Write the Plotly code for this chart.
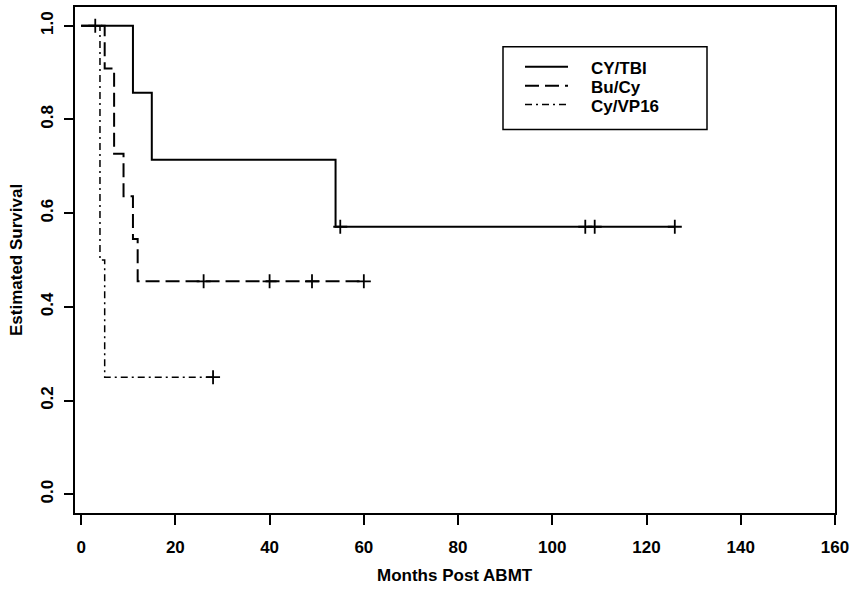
import plotly.graph_objects as go

# ---- data ----
groups = ["CY/TBI", "Bu/Cy", "Cy/VP16"]

cytbi_t = [0, 11, 15, 54, 126]
cytbi_s = [1.0, 0.857, 0.714, 0.571, 0.571]
cytbi_cens_t = [3, 55, 107, 109, 126]
cytbi_cens_s = [1.0, 0.571, 0.571, 0.571, 0.571]

bucy_t = [0, 5, 7, 9, 11, 12, 60]
bucy_s = [1.0, 0.909, 0.727, 0.636, 0.545, 0.4545, 0.4545]
bucy_cens_t = [26, 40, 49, 60]
bucy_cens_s = [0.4545, 0.4545, 0.4545, 0.4545]

cyvp_t = [0, 4, 5, 28]
cyvp_s = [1.0, 0.5, 0.25, 0.25]
cyvp_cens_t = [28]
cyvp_cens_s = [0.25]

x_ticks = [0, 20, 40, 60, 80, 100, 120, 140, 160]
y_ticks = [0.0, 0.2, 0.4, 0.6, 0.8, 1.0]
y_ticktext = ["0.0", "0.2", "0.4", "0.6", "0.8", "1.0"]

# ---- styles ----
FONT = "Liberation Sans, Arial, sans-serif"
FS = 17
styles = [
    dict(dash="solid", width=2),
    dict(dash="14px,6px", width=2),
    dict(dash="7px,4px,2px,4px", width=1.5),
]
curves = [
    (cytbi_t, cytbi_s, cytbi_cens_t, cytbi_cens_s),
    (bucy_t, bucy_s, bucy_cens_t, bucy_cens_s),
    (cyvp_t, cyvp_s, cyvp_cens_t, cyvp_cens_s),
]

fig = go.Figure()
for name, st, (t, s, ct, cs) in zip(groups, styles, curves):
    fig.add_trace(go.Scatter(
        x=t, y=s, mode="lines", name=name, showlegend=False,
        line=dict(color="black", width=st["width"], dash=st["dash"], shape="hv"),
    ))
    fig.add_trace(go.Scatter(
        x=ct, y=cs, mode="markers", showlegend=False,
        marker=dict(symbol="cross-thin", size=10, line=dict(color="black", width=1.8)),
    ))

# ---- manual legend (R style box) ----
L = 75
T = 5
W = 760
H = 508
def px2x(p):
    return (p - L) / W
def px2y(p):
    return (T + H - p) / H

shapes = [dict(type="rect", xref="paper", yref="paper",
               x0=px2x(503), x1=px2x(707), y0=px2y(128), y1=px2y(45),
               line=dict(color="black", width=1.5), fillcolor="white", layer="above")]
annotations = []
rows_line = [65, 84, 103]
rows_text = [66, 85, 104]
for name, st, yl, yt in zip(groups, styles, rows_line, rows_text):
    shapes.append(dict(type="line", xref="paper", yref="paper",
                       x0=px2x(525), x1=px2x(568), y0=px2y(yl), y1=px2y(yl),
                       line=dict(color="black", width=st["width"], dash=st["dash"]), layer="above"))
    annotations.append(dict(xref="paper", yref="paper", x=px2x(589), y=px2y(yt),
                            xanchor="left", yanchor="middle", showarrow=False, text=name,
                            height=18,
                            font=dict(family=FONT, size=FS, color="black", weight="bold")))

annotations.append(dict(xref="paper", yref="paper", x=0.5, y=px2y(576),
                        xanchor="center", yanchor="middle", showarrow=False,
                        text="Months Post ABMT",
                        font=dict(family=FONT, size=FS, color="black", weight="bold")))
annotations.append(dict(xref="paper", yref="paper", x=px2x(16), y=0.5,
                        xanchor="center", yanchor="middle", showarrow=False, textangle=-90,
                        text="Estimated Survival",
                        font=dict(family=FONT, size=FS, color="black", weight="bold")))

fig.update_layout(
    width=861, height=590,
    margin=dict(l=75, r=26, t=5, b=77),
    paper_bgcolor="white", plot_bgcolor="white",
    shapes=shapes, annotations=annotations,
    font=dict(family=FONT, size=FS, color="black", weight="bold"),
)
fig.update_xaxes(
    range=[-1.3, 160], tickvals=x_ticks, showgrid=False, zeroline=False,
    showline=True, mirror=True, linecolor="black", linewidth=1.5,
    ticks="outside", ticklen=10, tickwidth=1.5, tickcolor="black",
    ticklabelstandoff=8,
)
fig.update_yaxes(
    range=[-0.04, 1.04], tickvals=y_ticks, ticktext=y_ticktext, tickangle=-90,
    showgrid=False, zeroline=False,
    showline=True, mirror=True, linecolor="black", linewidth=1.5,
    ticks="outside", ticklen=9, tickwidth=1.5, tickcolor="black",
    ticklabelstandoff=4,
)

fig.write_html("out.html")
